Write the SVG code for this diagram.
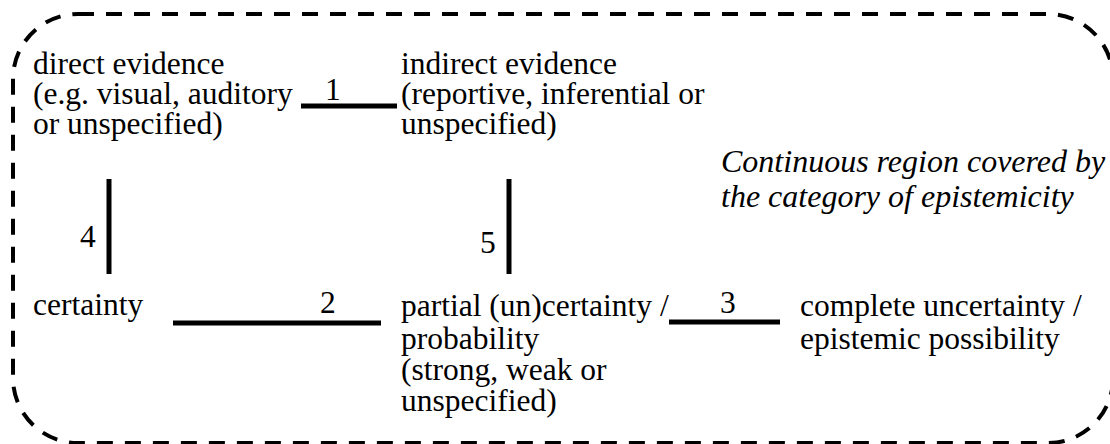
<svg xmlns="http://www.w3.org/2000/svg" width="1110" height="444" viewBox="0 0 1110 444">
<style>
  text { font-family: 'Liberation Serif', 'Times New Roman', serif; font-size: 31.5px; fill: #000; }
  .it { font-style: italic; font-size: 32px; }
  .conn { stroke: #000; stroke-width: 5; fill: none; }
  .region { stroke: #000; stroke-width: 4; fill: none; stroke-dasharray: 16 12; }
</style>
<rect width="1110" height="444" fill="#fff"/>
<g id="region">
  <rect class="region" x="13" y="14" width="1100" height="429" rx="65" ry="65"/>
  <text class="it" x="721" y="172">Continuous region covered by</text>
  <text class="it" x="721" y="207">the category of epistemicity</text>
</g>
<g id="direct-evidence">
  <text x="33" y="74">direct evidence</text>
  <text x="33" y="104">(e.g. visual, auditory</text>
  <text x="33" y="134">or unspecified)</text>
</g>
<g id="indirect-evidence">
  <text x="401" y="74">indirect evidence</text>
  <text x="401" y="104">(reportive, inferential or</text>
  <text x="401" y="134">unspecified)</text>
</g>
<g id="certainty">
  <text x="33" y="315">certainty</text>
</g>
<g id="partial-uncertainty">
  <text x="401" y="316">partial (un)certainty /</text>
  <text x="401" y="349">probability</text>
  <text x="401" y="380">(strong, weak or</text>
  <text x="401" y="411">unspecified)</text>
</g>
<g id="complete-uncertainty">
  <text x="800" y="316">complete uncertainty /</text>
  <text x="800" y="349">epistemic possibility</text>
</g>
<g id="connectors">
  <line class="conn" x1="301" y1="106" x2="397" y2="106"/>
  <text x="325" y="100">1</text>
  <line class="conn" x1="173" y1="323" x2="381" y2="323"/>
  <text x="320" y="313">2</text>
  <line class="conn" x1="669" y1="322" x2="780" y2="322"/>
  <text x="720" y="313">3</text>
  <line class="conn" x1="109" y1="179" x2="109" y2="274"/>
  <text x="80" y="247">4</text>
  <line class="conn" x1="509" y1="179" x2="509" y2="274"/>
  <text x="480" y="253">5</text>
</g>
</svg>
